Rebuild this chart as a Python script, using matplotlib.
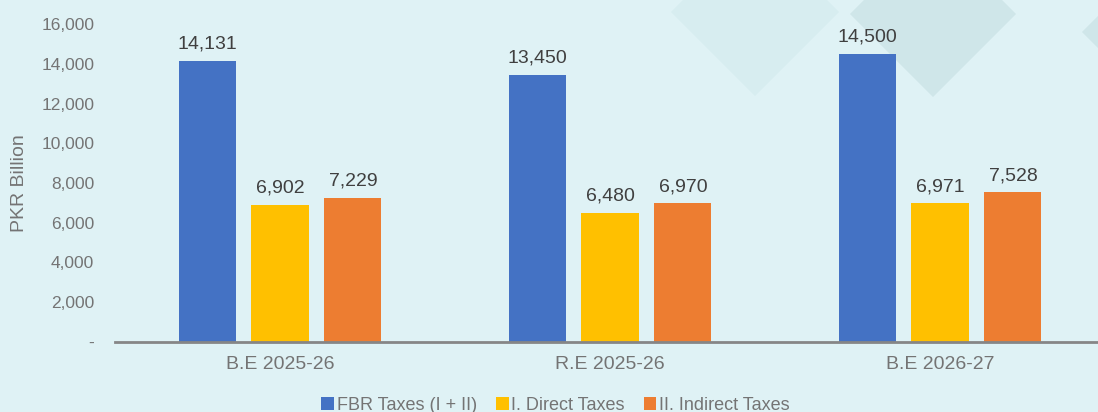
import matplotlib
matplotlib.use("Agg")
import matplotlib.pyplot as plt
from matplotlib.patches import Polygon
from matplotlib.ticker import FuncFormatter
import numpy as np

categories = ["B.E 2025-26", "R.E 2025-26", "B.E 2026-27"]
series_names = ["FBR Taxes (I + II)", "I. Direct Taxes", "II. Indirect Taxes"]
fbr_taxes = [14131, 13450, 14500]
direct_taxes = [6902, 6480, 6971]
indirect_taxes = [7229, 6970, 7528]
colors = ["#4472C4", "#FFC000", "#ED7D31"]
yticks = [0, 2000, 4000, 6000, 8000, 10000, 12000, 14000, 16000]

plt.rcParams['font.family'] = ['Liberation Sans', 'DejaVu Sans']

W, H = 1098, 412
fig = plt.figure(figsize=(W / 100, H / 100), dpi=100, facecolor="#dff2f5")

# decorative diamonds (pixel coords -> figure fraction)
def diamond(cx, cy, r, color):
    pts = [(cx - r, cy), (cx, cy + r), (cx + r, cy), (cx, cy - r)]
    pts = [(x / W, 1 - y / H) for x, y in pts]
    fig.patches.append(Polygon(pts, closed=True, transform=fig.transFigure,
                               facecolor=color, edgecolor="none", zorder=-5))

diamond(755, 12, 84, "#d7edf0")
diamond(933, 14, 83, "#cfe6e9")
diamond(1165, 32, 83, "#cfe6e9")

ax = fig.add_axes([115 / W, 1 - 342 / H, 990 / W, (342 - 24) / H])
ax.set_facecolor("none")
ax.set_zorder(2)

x = np.arange(len(categories))
width = 0.173
step = 0.221
all_series = [fbr_taxes, direct_taxes, indirect_taxes]
for i, (vals, name, c) in enumerate(zip(all_series, series_names, colors)):
    bars = ax.bar(x + (i - 1) * step, vals, width, color=c, label=name, zorder=2)
    ax.bar_label(bars, labels=[f"{v:,}" for v in vals], padding=6,
                 fontsize=14, color="#404040")

ax.set_xlim(-0.5, 2.5)
ax.set_ylim(0, 16000)
ax.set_yticks(yticks)
ax.yaxis.set_major_formatter(FuncFormatter(lambda v, p: "-" if v == 0 else f"{int(v):,}"))
ax.set_xticks(x)
ax.set_xticklabels(categories)

for s in ["top", "right", "left"]:
    ax.spines[s].set_visible(False)
ax.spines["bottom"].set_color("#868686")
ax.spines["bottom"].set_linewidth(2)
ax.spines["bottom"].set_zorder(3)

ax.tick_params(axis="y", length=0, pad=15, labelsize=12.5, labelcolor="#747474")
ax.tick_params(axis="x", length=0, pad=10, labelsize=14, labelcolor="#747474")

ax.set_ylabel("PKR Billion", fontsize=14, color="#747474")
ax.yaxis.set_label_coords(-0.088, 0.5)

fig.legend(loc="center", bbox_to_anchor=(0.506, 1 - 405 / H), ncol=3, frameon=False,
           fontsize=13, labelcolor="#747474", handlelength=0.7, handleheight=0.7,
           handletextpad=0.15, columnspacing=1.05)

fig.savefig("out.png", dpi=100, facecolor=fig.get_facecolor())
